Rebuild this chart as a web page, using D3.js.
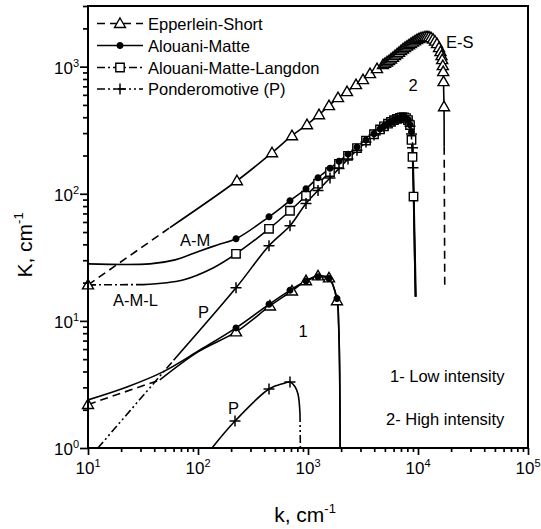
<!DOCTYPE html>
<html>
<head>
<meta charset="utf-8">
<script src="https://cdn.jsdelivr.net/npm/d3@7"></script>
<style>
  body { margin: 0; background: #fff; }
  svg { font-family: "Liberation Sans", Arial, Helvetica, sans-serif; }
</style>
</head>
<body>
<svg id="chart" width="541" height="529"></svg>
<script>
// each point: [k (cm^-1), K (cm^-1), marker?]
// --- high intensity (2) ---
esHighLeft = [[10,19.2,1],[55.6,54.2,0]]
esHigh = [[55.6,54.2,0],[226,126.6,1],[471,210.3,1],[715,286.2,1],[979,349.4,1],[1259,418.8,1],
  [1552,493.2,1],[1874,570.1,1],[2262,635.6,1],[2732,721.8,1],[3162,789.9,1],[3661,880.9,1],
  [4240,964.5,1],[4806,1037,1],[5012,1062,1],[5226,1089,1],[5451,1115,1],[5683,1150,1],
  [5926,1184,1],[6178,1221,1],[6445,1259,1],[6720,1296,1],[7006,1337,1],[7305,1378,1],
  [7616,1416,1],[7943,1450,1],[8283,1485,1],[8637,1523,1],[9006,1559,1],[9392,1596,1],
  [9793,1632,1],[10212,1661,1],[10648,1683,1],[11103,1701,1],[11575,1716,1],[12070,1722,1],
  [12589,1716,1],[13128,1691,1],[13689,1647,1],[14271,1588,1],[14884,1518,1],[15521,1411,1],
  [16015,1313,1],[16353,1221,1],[16596,1135,1],[16807,1018,1],[16948,913,1],[17057,762,1],
  [17238,484,1],[17300,234,0]]
esHighTail = [[17300,234,0],[17500,19.2,0]]

amHigh = [[10,28.1,0],[36.6,28.1,0],[61.8,30.2,0],[104,35.5,0],[150,39.6,0],[221.6,44.2,1],
  [442,65.9,1],[686,88.1,1],[959,109.5,1],[1233,133.7,1],[1585,158.5,1],[1913,180.3,1],
  [2310,205,1],[2789,232.8,1],[3367,264.8,1],[3981,296.8,1],[4514,323.2,1],[4909,341.2,1],
  [5337,358.4,1],[5683,370.2,1],[6050,381.1,1],[6445,389.5,1],[6861,396.7,1],[7153,399.6,1],
  [7461,399.6,1],[7780,395.3,1],[8114,382.5,1],[8459,349.4,1],[8729,307.7,1],[8913,256.7,0],
  [9006,202.8,0],[9101,141.1,0],[9193,89.7,0],[9392,36.2,0],[9590,15.5,0]]

amlHighLeft = [[10,19.2,0],[31.6,19.3,0]]
amlHigh = [[31.6,19.3,0],[73,21,0],[137,26.1,0],[221.6,33.7,1],[442,53,1],[686,73.5,1],
  [959,96.5,1],[1233,120,1],[1585,148,1],[1913,172,1],[2310,199,1],[2789,229,1],[3367,262,1],
  [3981,294,1],[4514,321,1],[4909,339,1],[5337,356,1],[5683,368,1],[6050,379,1],[6445,388,1],
  [6861,395,1],[7153,398,1],[7461,398,1],[7780,394,1],[8114,380,1],[8459,347,1],[8729,265,1],
  [8913,195,1],[9101,95,1],[9300,35,0],[9500,15.5,0]]

pHighLeft = [[12.3,1,0],[60,4.9,0]]
pHigh = [[60,4.9,0],[221.6,18.2,1],[442,39,1],[686,56,1],[959,84,1],[1233,106,1],[1585,133,1],
  [1913,158,1],[2310,188,1],[2789,220,1],[3367,255,1],[3981,290,1],[4514,318,1],[4909,337,1],
  [5337,354,1],[5683,367,1],[6050,378,1],[6445,387,1],[6861,394,1],[7153,397,1],[7461,397,1],
  [7780,393,1],[8114,378,1],[8459,340,1],[8729,295,1],[8913,230,1],[9006,160,1],[9101,110,0],
  [9250,50,0],[9450,15.5,0]]

// --- low intensity (1) ---
esLowLeft = [[10,2.2,1],[45,3.43,0]]
esLow = [[45,3.43,0],[100,5.7,0],[221.6,8.19,1],[451,13.1,1],[715,17.2,1],[959,20.7,1],
  [1233,22.6,1],[1552,21.8,1],[1834,14.4,1],[1900,9,0],[1940,4,0],[1960,1,0]]

amLow = [[10,2.39,0],[22.6,3.02,0],[48,3.97,0],[104,5.9,0],[221.6,8.81,1],[442,13.5,1],
  [686,17.4,1],[959,20.6,1],[1233,22.2,1],[1552,21.5,1],[1834,15,1],[1900,9.5,0],[1940,4,0],[1960,1,0]]

pLow = [[134,1,0],[217,1.63,1],[442,2.91,1],[600,3.22,0],[686,3.3,1],[760,3.05,0],[811,2.66,0],[846,1.85,0]]
pLowTail = [[846,1.85,0],[852,1,0]]

legendNames = ['Epperlein-Short', 'Alouani-Matte', 'Alouani-Matte-Langdon', 'Ponderomotive (P)']

// [text, k, K, anchor]
annotations = [
  ['E-S', 17970, 1411, 'start'],
  ['2', 9006, 647, 'middle'],
  ['A-M', 68.6, 39, 'start'],
  ['A-M-L', 16.9, 13.1, 'start'],
  ['P', 100, 10.6, 'start'],
  ['1', 901, 7.48, 'middle'],
  ['P', 187, 1.85, 'start'],
  ['1- Low intensity', 5560, 3.31, 'start'],
  ['2- High intensity', 5120, 1.52, 'start']
]

xMajor = [10, 100, 1000, 10000, 100000]
yMajor = [1, 10, 100, 1000]

var svg = d3.select('#chart');
var x = d3.scaleLog().domain([10, 1e5]).range([88, 528]);
var y = d3.scaleLog().domain([1, 3000]).range([448, 6]);

var dashes = { es: '8,5', am: null, aml: '8,3,2,3', p: '8,3,2,3,2,3' };

var markerPath = {
  es: 'M0,-5.5L5.5,4L-5.5,4Z',
  aml: 'M-4.2,-4.2H4.2V4.2H-4.2Z',
  am: 'M2.8,0A2.8,2.8 0 1,1 -2.8,0A2.8,2.8 0 1,1 2.8,0Z',
  p: 'M-5.5,0H5.5M0,-5.5V5.5'
};
var markerFill = { es: '#fff', aml: '#fff', am: '#000', p: 'none' };

// clip for curves
svg.append('clipPath').attr('id', 'plotClip')
  .append('rect').attr('x', 88).attr('y', 6).attr('width', 440).attr('height', 442);

var line = d3.line()
  .x(function(d) { return x(d[0]) })
  .y(function(d) { return y(d[1]) })
  .curve(d3.curveCatmullRom.alpha(0.5));

// pieces of curves: [points, series, dashed?]
var pieces = [
  [esHighLeft, 'es', true], [esHigh, 'es', false], [esHighTail, 'es', true],
  [esLowLeft, 'es', true], [esLow, 'es', false],
  [amlHighLeft, 'aml', true], [amlHigh, 'aml', false],
  [pHighLeft, 'p', true], [pHigh, 'p', false],
  [pLow, 'p', false], [pLowTail, 'p', true],
  [amHigh, 'am', false], [amLow, 'am', false]
];

var curves = svg.append('g').attr('clip-path', 'url(#plotClip)');
curves.selectAll('path.curve').data(pieces).enter()
  .append('path')
  .attr('class', 'curve')
  .attr('d', function(d) { return line(d[0]) })
  .attr('fill', 'none')
  .attr('stroke', '#000')
  .attr('stroke-width', 1.6)
  .attr('stroke-dasharray', function(d) { return d[2] ? dashes[d[1]] : null });

// markers, drawn after all lines
var order = ['es', 'aml', 'p', 'am'];
order.forEach(function(s) {
  var pts = [];
  pieces.forEach(function(pc) {
    if (pc[1] == s) pc[0].forEach(function(d) { if (d[2]) pts.push(d) });
  });
  svg.append('g').selectAll('path').data(pts).enter()
    .append('path')
    .attr('d', markerPath[s])
    .attr('transform', function(d) { return 'translate(' + x(d[0]) + ',' + y(d[1]) + ')' })
    .attr('fill', markerFill[s])
    .attr('stroke', '#000')
    .attr('stroke-width', s == 'p' ? 1.5 : 1.4);
});

// axes: ticks only, frame drawn separately
var xMinor = x.ticks().filter(function(v) { return xMajor.indexOf(v) < 0 });
var yMinor = y.ticks().filter(function(v) { return yMajor.indexOf(v) < 0 });

function tickAxis(axis, vals, size) {
  return axis.tickValues(vals).tickSize(size).tickFormat('');
}
var gx1 = svg.append('g').attr('transform', 'translate(0,448)').call(tickAxis(d3.axisBottom(x), xMajor, 7));
var gx2 = svg.append('g').attr('transform', 'translate(0,448)').call(tickAxis(d3.axisBottom(x), xMinor, 4));
var gy1 = svg.append('g').attr('transform', 'translate(88,0)').call(tickAxis(d3.axisLeft(y), yMajor, 8));
var gy2 = svg.append('g').attr('transform', 'translate(88,0)').call(tickAxis(d3.axisLeft(y), yMinor, 5));
[gx1, gx2, gy1, gy2].forEach(function(g) {
  g.select('.domain').remove();
  g.selectAll('line').attr('stroke', '#000').attr('stroke-width', 1.7);
});

svg.append('rect').attr('x', 88).attr('y', 6).attr('width', 440).attr('height', 442)
  .attr('fill', 'none').attr('stroke', '#000').attr('stroke-width', 2);

function powLabel(sel) {
  sel.text('10').append('tspan').attr('dy', -7).attr('font-size', 11)
    .text(function(d) { return Math.round(Math.log10(d)) });
}
svg.selectAll('.xlab').data(xMajor).enter().append('text')
  .attr('class', 'xlab')
  .attr('x', function(d) { return x(d) })
  .attr('y', 474)
  .attr('text-anchor', 'middle')
  .attr('font-size', 17)
  .call(powLabel);
svg.selectAll('.ylab').data(yMajor).enter().append('text')
  .attr('class', 'ylab')
  .attr('x', 79)
  .attr('y', function(d) { return y(d) + 7 })
  .attr('text-anchor', 'end')
  .attr('font-size', 17)
  .call(powLabel);

// axis titles
var xt = svg.append('text').attr('x', 305).attr('y', 522).attr('text-anchor', 'middle').attr('font-size', 21);
xt.append('tspan').text('k, cm');
xt.append('tspan').attr('dy', -9).attr('font-size', 13).text('-1');
var yt = svg.append('text').attr('transform', 'translate(32,245) rotate(-90)').attr('text-anchor', 'middle').attr('font-size', 21);
yt.append('tspan').text('K, cm');
yt.append('tspan').attr('dy', -9).attr('font-size', 13).text('-1');

// legend
var legendY = [23.5, 45.5, 67.5, 89];
var legendKeys = ['es', 'am', 'aml', 'p'];
var lg = svg.append('g');
legendNames.forEach(function(name, i) {
  var s = legendKeys[i], ly = legendY[i];
  lg.append('line').attr('x1', 97).attr('x2', 143).attr('y1', ly).attr('y2', ly)
    .attr('stroke', '#000').attr('stroke-width', 1.6)
    .attr('stroke-dasharray', dashes[s]);
  lg.append('path').attr('d', markerPath[s])
    .attr('transform', 'translate(120,' + ly + ')')
    .attr('fill', markerFill[s]).attr('stroke', '#000')
    .attr('stroke-width', s == 'p' ? 1.5 : 1.4);
  lg.append('text').attr('x', 148).attr('y', ly + 6).attr('font-size', 16.5).text(name);
});

// annotations
svg.selectAll('.note').data(annotations).enter().append('text')
  .attr('class', 'note')
  .attr('x', function(d) { return x(d[1]) })
  .attr('y', function(d) { return y(d[2]) })
  .attr('text-anchor', function(d) { return d[3] })
  .attr('font-size', function(d) { return d[0].length > 6 ? 16.5 : 16.5 })
  .text(function(d) { return d[0] });
</script>
</body>
</html>
